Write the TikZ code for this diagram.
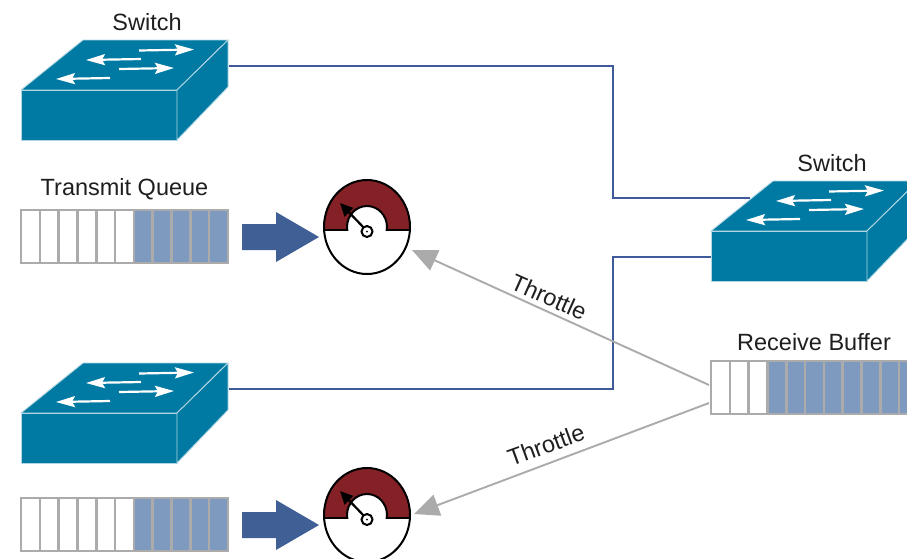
\documentclass[tikz,border=0pt]{standalone}
\usepackage{fontspec}
\setmainfont{Liberation Sans}
\usetikzlibrary{arrows.meta,calc}
\definecolor{swteal}{HTML}{007AA3}
\definecolor{linkblue}{HTML}{3F5A9A}
\definecolor{blockblue}{HTML}{3F5F95}
\definecolor{cellblue}{HTML}{7F9ABF}
\definecolor{cellgrey}{HTML}{ABABAB}
\definecolor{gaugered}{HTML}{842126}
\tikzset{
  swface/.style={fill=swteal,draw=white!70!swteal,line width=.9pt,line join=round},
  swarrow/.style={draw=white,line width=2.2pt,-{Stealth[length=19pt,width=11pt,inset=3pt,fill=white]}},
  link/.style={draw=linkblue,line width=2.1pt},
  throttle/.style={draw=cellgrey,line width=1.9pt,-{Triangle[length=25pt,width=22pt,fill=cellgrey]}},
  lbl/.style={font=\fontsize{23.5}{26}\selectfont,text=black!88,inner sep=0pt},
  blockarrow/.style={fill=blockblue,draw=none},
  cell/.style={draw=cellgrey,line width=2.6pt},
  holder/.style={inner sep=0pt,draw=none,fill=none},
}
% name, x, y of the upper-left corner of the icon's bounding box
\newcommand{\switchicon}[3]{%
  \begin{scope}[shift={(#2,#3)}]
    \path[swface] (0,50)--(62,0)--(207,0)--(156,50)--cycle;
    \path[swface] (0,50)--(156,50)--(156,100)--(0,100)--cycle;
    \path[swface] (156,50)--(207,0)--(207,47)--(156,100)--cycle;
    \draw[swarrow] (118,10.5)--(173,9.5);
    \draw[swarrow] (120,19)--(65,20);
    \draw[swarrow] (98,29)--(153,28);
    \draw[swarrow] (89,38)--(35,39);
    \node[holder,minimum width=207pt,minimum height=100pt,anchor=north west] (#1) at (0,0) {};
  \end{scope}}
% name, x, y, number of white cells, number of cells
\newcommand{\queueicon}[5]{%
  \node[holder,anchor=north west,minimum height=55pt,minimum width=#5*18.8pt] (#1) at (#2,#3) {};
  \foreach \i in {1,...,#5}{%
    \pgfmathparse{\i<=#4?"white":"cellblue"}\edef\cc{\pgfmathresult}
    \path[cell,fill=\cc] ({#2+1+(\i-1)*18.8},#3+1) rectangle ++(18.8,53);
  }}
% name, x, y of equator centre
\newcommand{\gaugeicon}[3]{%
  \begin{scope}[shift={(#2,#3)}]
    \path[fill=white] (0,-3) ellipse[x radius=43pt,y radius=47pt];
    \begin{scope}
      \clip (-50,-60) rectangle (50,0);
      \path[fill=gaugered,even odd rule] (0,-3) ellipse[x radius=43pt,y radius=47pt]
          (0,-3) ellipse[x radius=20pt,y radius=21pt];
      \draw[line width=2pt] (0,-3) ellipse[x radius=20pt,y radius=21pt];
    \end{scope}
    \draw[line width=2pt] (-43,0)--(-20,0) (20,0)--(43,0);
    \draw[line width=2pt] (-20,0)--(-20,-3) (20,0)--(20,-3);
    \draw[line width=2pt] (0,-3) ellipse[x radius=43pt,y radius=47pt];
    \draw[line width=2.2pt,-{Triangle[length=13pt,width=12pt]}] (0,1)--(-27,-27);
    \path[draw=black,line width=2pt,fill=white] (0,1.5) circle[radius=5.5pt];
    \path[fill=black] (0,1.5) circle[radius=1pt];
    \node[holder,minimum width=86pt,minimum height=94pt] (#1) at (0,-3) {};
  \end{scope}}
\newcommand{\blockicon}[3]{%
  \path[blockarrow] (#2,#3-13)--(#2+34,#3-13)--(#2+34,#3-25)--(#2+77,#3)--(#2+34,#3+25)--(#2+34,#3+13)--(#2,#3+13)--cycle;
  \coordinate (#1) at (#2,#3);}
\begin{document}
\begin{tikzpicture}[x=1pt,y=-1pt]
\useasboundingbox (0,0) rectangle (907,558);
\path[fill=white] (0,0) rectangle (907,558);
\clip (0,0) rectangle (907,558);

\coordinate (sw1port) at (229,66);
\coordinate (sw2porta) at (750,198);
\coordinate (sw2portb) at (711,257);
\coordinate (sw3port) at (229,389);
\coordinate (bendx) at (613,0);
\draw[link,line join=miter] (sw1port) -- (sw1port -| bendx) -- (sw2porta -| bendx) -- (sw2porta);
\draw[link,line join=miter] (sw2portb) -- (sw2portb -| bendx) -- (sw3port -| bendx) -- (sw3port);

\switchicon{sw1}{21}{40}
\switchicon{sw2}{711}{181}
\switchicon{sw3}{21}{363}

\node[lbl] (lab1) at (147,22) {Switch};
\node[lbl] (lab2) at (832,163.5) {Switch};
\node[lbl] (lab3) at (124.5,189) {Transmit Queue};
\node[lbl] (lab4) at (814,342) {Receive Buffer};

\queueicon{q1}{20}{209}{6}{11}
\queueicon{q2}{20}{497}{6}{11}
\queueicon{rb}{710}{360}{3}{11}

\blockicon{b1}{242}{237}
\blockicon{b2}{242}{525}

\gaugeicon{g1}{367}{230}
\gaugeicon{g2}{367}{518}

\coordinate (rba) at (709,385);
\coordinate (rbb) at (709,403);
\coordinate (g1tip) at (412,250);
\coordinate (g2tip) at (414,514);
\draw[throttle] (rba) -- (g1tip);
\draw[throttle] (rbb) -- (g2tip);
\node[lbl,rotate=-24] (t1) at (549,297) {Throttle};
\node[lbl,rotate=20] (t2) at (546,445) {Throttle};
\end{tikzpicture}
\end{document}
